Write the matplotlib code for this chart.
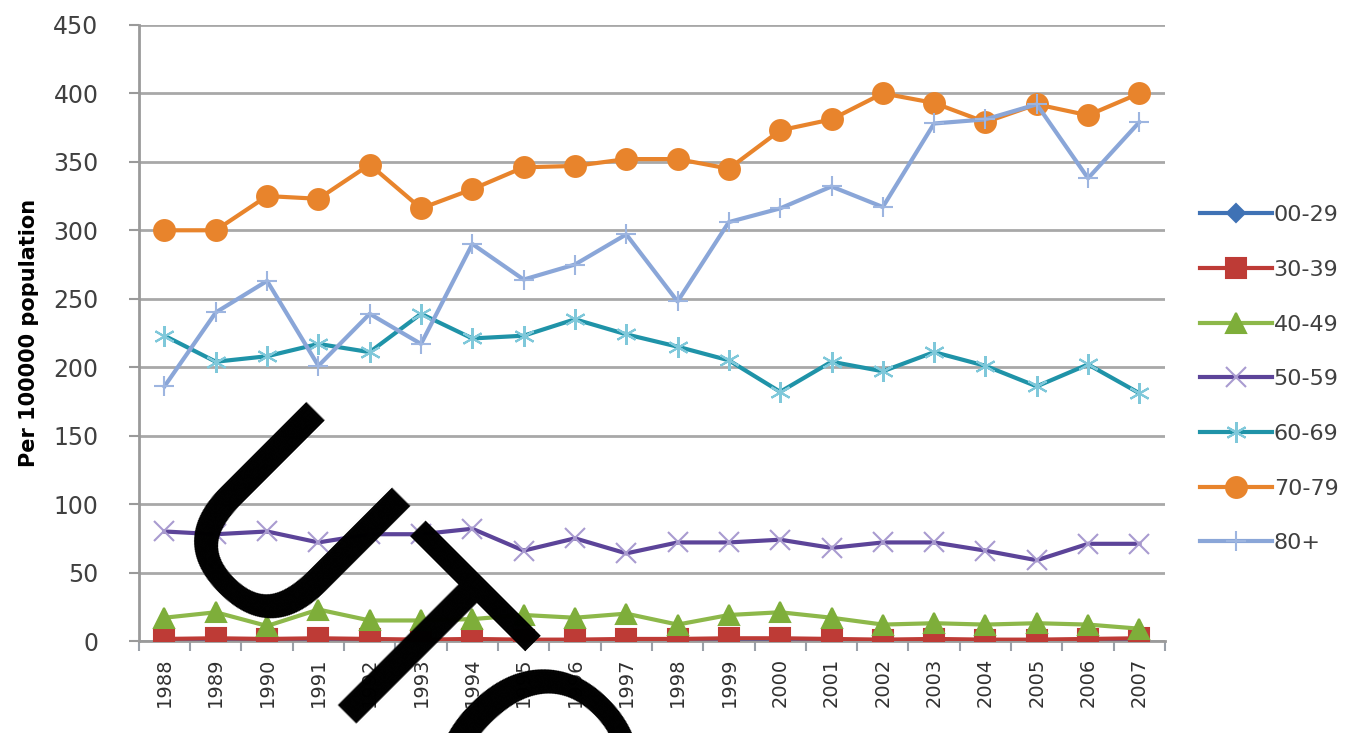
import matplotlib
matplotlib.use('Agg')
import matplotlib.pyplot as plt

years = [str(y) for y in range(1988, 2008)]
groups = ['00-29', '30-39', '40-49', '50-59', '60-69', '70-79', '80+']

age_00_29 = [0.3, 0.3, 0.3, 0.3, 0.3, 0.3, 0.3, 0.3, 0.3, 0.3,
             0.3, 0.3, 0.3, 0.3, 0.3, 0.3, 0.3, 0.3, 0.3, 0.3]
age_30_39 = [1.5, 2, 1.5, 2, 1.5, 1, 1.5, 1, 1, 1.5,
             1.5, 2, 2, 1.5, 1, 1.5, 1, 1, 1.5, 2]
age_40_49 = [17, 21, 11, 23, 15, 15, 16, 19, 17, 20,
             12, 19, 21, 17, 12, 13, 12, 13, 12, 9]
age_50_59 = [80, 78, 80, 72, 78, 78, 82, 66, 75, 64,
             72, 72, 74, 68, 72, 72, 66, 59, 71, 71]
age_60_69 = [223, 204, 208, 217, 211, 239, 221, 223, 235, 224,
             215, 205, 182, 204, 197, 211, 201, 186, 202, 181]
age_70_79 = [300, 300, 325, 323, 348, 316, 330, 346, 347, 352,
             352, 345, 373, 381, 400, 393, 379, 392, 384, 400]
age_80_up = [186, 240, 263, 201, 239, 217, 290, 264, 275, 297,
             248, 306, 316, 332, 317, 378, 381, 392, 338, 379]

series = [age_00_29, age_30_39, age_40_49, age_50_59, age_60_69, age_70_79, age_80_up]

# 線の色, マーカーの色, マーカー, 大きさ
styles = [
    ('#3F72B5', '#3F72B5', 'D', 9),
    ('#BE3B36', '#BE3B36', 's', 15),
    ('#8DB84A', '#7EAE3A', '^', 14),
    ('#5C4499', '#A99BD0', 'x', 14),
    ('#1F93A8', '#7FC8DA', (6, 2, 0), 15),
    ('#E8842C', '#E8842C', 'o', 15),
    ('#8AA6D8', '#9DB5E0', '+', 14),
]

fig = plt.figure(figsize=(13.61, 7.33), dpi=100)
ax = fig.add_axes([0.102, 0.1255, 0.754, 0.8405])

x = list(range(len(years)))
for name, vals, (lc, mc, mk, ms) in zip(groups, series, styles):
    ax.plot(x, vals, color=lc, lw=3, marker=mk, markersize=ms,
            markerfacecolor=mc, markeredgecolor=mc, markeredgewidth=1.5,
            label=name, zorder=3)

ax.set_xlim(-0.5, 19.5)
ax.set_ylim(0, 450)
ax.set_yticks(range(0, 451, 50))
ax.set_xticks(x)
ax.set_xticklabels(years, rotation=90, fontsize=14, color='#303030')
ax.set_xticks([i - 0.5 for i in range(21)], minor=True)
ax.tick_params(axis='x', which='major', length=0, pad=12)
ax.tick_params(axis='x', which='minor', length=7, width=1.5, color='#9AA0A8')
ax.tick_params(axis='y', length=7, width=1.5, color='#9A9A9A',
               labelsize=17, labelcolor='#404040', pad=22)

ax.grid(axis='y', color='#A8A8A8', lw=2)
ax.set_axisbelow(True)
for s in ['top', 'right']:
    ax.spines[s].set_visible(False)
ax.spines['left'].set_color('#9A9A9A')
ax.spines['left'].set_linewidth(2)
ax.spines['bottom'].set_color('#9A9A9A')
ax.spines['bottom'].set_linewidth(2)

ax.set_ylabel('Per 100000 population', fontsize=15, fontweight='bold',
              family=['Liberation Sans Narrow', 'DejaVu Sans'], labelpad=10)

leg = ax.legend(loc='center left', bbox_to_anchor=(1.015, 0.425), frameon=False,
                fontsize=16, handlelength=3.2, labelspacing=1.56, handletextpad=0.1)
for t in leg.get_texts():
    t.set_color('#404040')

# 画像に重なっている黒い文字
fig.text(382 / 1361, 1 - 670 / 733, 'UTC', fontsize=190, color='black',
         rotation=-45, rotation_mode='anchor', ha='center', va='center', zorder=10)

fig.savefig('out.png', dpi=100)
